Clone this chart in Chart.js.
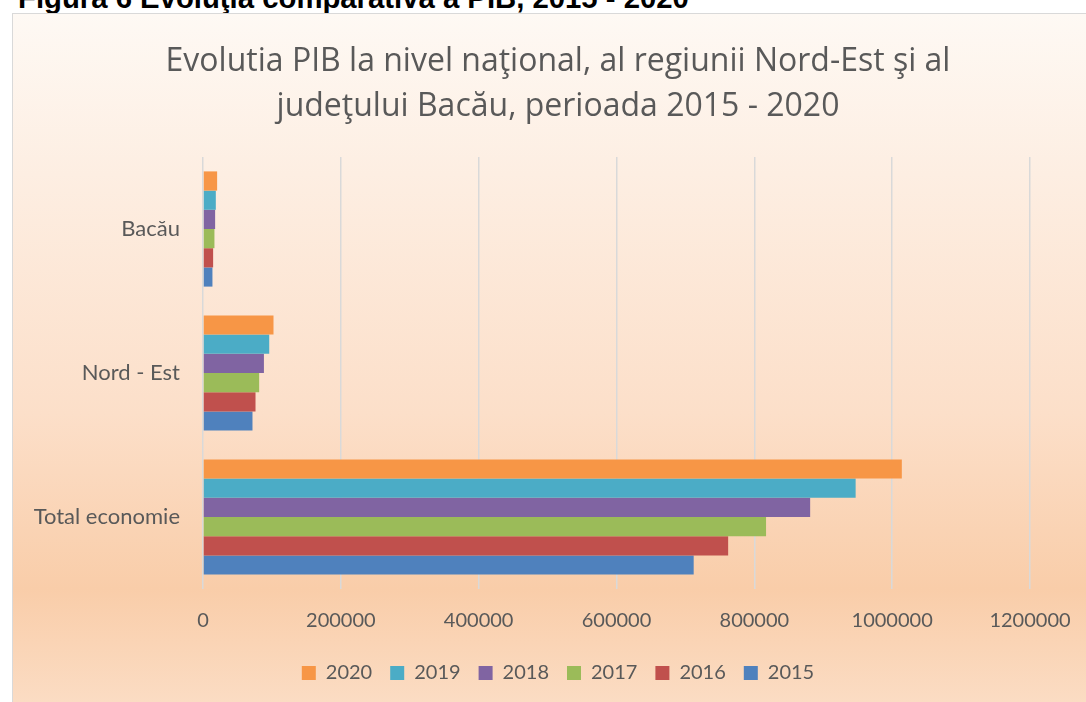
<!DOCTYPE html>
<html>
<head>
<meta charset="utf-8">
<script src="https://cdn.jsdelivr.net/npm/chart.js@4.4.1/dist/chart.umd.min.js"></script>
<style>
html,body{margin:0;padding:0;background:#fff;overflow:hidden;width:1086px;height:702px;position:relative;}
#hdr{position:absolute;left:18px;top:-17px;font:bold 29.3px "Liberation Sans",Arial,sans-serif;color:#000;white-space:nowrap;line-height:29px;}
#box{position:absolute;left:12px;top:13px;width:1090px;height:688px;border-left:1px solid #d9d9d9;border-top:1px solid #d9d9d9;
background:linear-gradient(to bottom,#FEF9F4 0px,#FDEEE2 160px,#FCDFC9 400px,#F9CDA9 575px,#FBDCC3 688px);}
#c{display:block;}
</style>
</head>
<body>
<div id="hdr">Figura 6 Evoluţia comparativă a PIB, 2015 - 2020</div>
<div id="box"><canvas id="c" width="1090" height="688"></canvas></div>
<script>
// ---- data ----
const categories = ['Bacău', 'Nord - Est', 'Total economie'];
const years = ['2020', '2019', '2018', '2017', '2016', '2015'];
const v2020 = [20500, 102300, 1014000];
const v2019 = [18600, 96100, 947000];
const v2018 = [17600, 88400, 881000];
const v2017 = [16600, 81500, 817000];
const v2016 = [14700, 76200, 762000];
const v2015 = [13700, 71800, 712000];
const xTickValues = [0, 200000, 400000, 600000, 800000, 1000000, 1200000];
const titleLines = ['Evolutia PIB la nivel naţional, al regiunii Nord-Est şi al', 'judeţului Bacău, perioada 2015 - 2020'];

const seriesValues = [v2020, v2019, v2018, v2017, v2016, v2015];
const colors = ['#F79646', '#4BACC6', '#8064A2', '#9BBB59', '#C0504D', '#4F81BD'];

const FONT = 'Lato, "Open Sans", sans-serif';
const TFONT = '"Open Sans", Lato, sans-serif';
const TXT = '#595959';

// center title and legend across the full (wider) chart object, like the original
const centerBlocks = {
  id: 'centerBlocks',
  afterLayout(chart) {
    const W = chart.width;
    [chart.titleBlock, chart.legend].forEach(b => {
      if (b) { b.left = 0; b.right = W; b.width = W; }
    });
  }
};

new Chart(document.getElementById('c'), {
  type: 'bar',
  data: {
    labels: categories,
    datasets: years.map((y, i) => ({
      label: y,
      data: seriesValues[i],
      backgroundColor: colors[i],
      borderWidth: 0,
      categoryPercentage: 0.8,
      barPercentage: 1.0
    }))
  },
  plugins: [centerBlocks],
  options: {
    indexAxis: 'y',
    responsive: false,
    animation: false,
    layout: { padding: { left: 0, right: 73, top: 0, bottom: 9 } },
    plugins: {
      title: {
        display: true,
        text: titleLines,
        color: TXT,
        font: { family: TFONT, size: 32, weight: 'normal', lineHeight: '44.5px' },
        padding: { top: 26, bottom: 28 }
      },
      legend: {
        position: 'bottom',
        labels: {
          color: TXT,
          font: { family: FONT, size: 20 },
          boxWidth: 14,
          boxHeight: 14,
          padding: 18
        }
      },
      tooltip: { enabled: false }
    },
    scales: {
      x: {
        min: 0,
        max: 1200000,
        afterBuildTicks: (s) => { s.ticks = xTickValues.map(v => ({ value: v })); },
        ticks: {
          color: TXT,
          font: { family: FONT, size: 20 },
          padding: 20,
          maxRotation: 0,
          callback: (v) => String(v)
        },
        grid: { color: '#D9D9D9', lineWidth: 1.5, drawTicks: false },
        border: { display: false },
        afterFit: (s) => { s.height = 56; }
      },
      y: {
        ticks: {
          color: TXT,
          font: { family: FONT, size: 22 },
          padding: 23
        },
        grid: { display: false, drawTicks: false },
        border: { display: false },
        afterFit: (s) => { s.width = 190; }
      }
    }
  }
});
</script>
</body>
</html>
